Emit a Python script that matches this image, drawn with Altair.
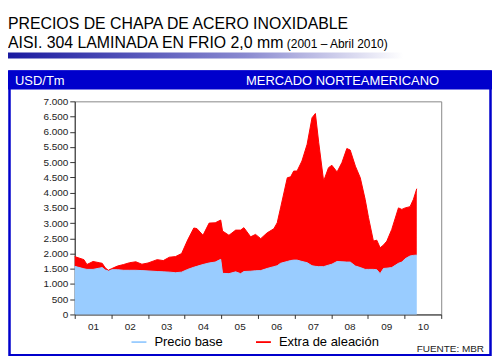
import altair as alt
import pandas as pd

# ---- data ----
# month index counted from January 2001 (0 = Jan 2001)
meses = [0, 3, 4, 6, 8, 9, 10, 11, 12, 14, 16, 18, 20, 22, 24, 27, 29, 31, 33, 35,
         37, 39, 40, 42, 44, 46, 47.8, 48.4, 50.5, 52.7, 54.3, 55.4, 57.6, 59.2, 60.9,
         63, 65.2, 66.3, 67.4, 69.6, 70.7, 71.7, 72.8, 74.4, 76.1, 77.7, 78.8, 79.9,
         81.5, 83.1, 84.2, 85.9, 87.5, 89.1, 90.2, 91.9, 93.5, 95.1, 96.2, 97.8, 98.9,
         100, 101.1, 102.2, 103.8, 106, 107.1, 108.2, 109.8, 110.9, 112]
precio_base = [1580, 1500, 1480, 1480, 1520, 1540, 1460, 1440, 1470, 1470, 1450, 1450,
               1450, 1440, 1430, 1410, 1400, 1390, 1370, 1390, 1480, 1550, 1580, 1640,
               1690, 1720, 1810, 1350, 1340, 1400, 1340, 1410, 1420, 1435, 1440, 1510,
               1570, 1600, 1680, 1740, 1770, 1785, 1785, 1740, 1700, 1600, 1580, 1570,
               1570, 1620, 1650, 1740, 1730, 1720, 1720, 1590, 1540, 1480, 1480, 1480,
               1470, 1340, 1510, 1520, 1540, 1680, 1720, 1830, 1920, 1940, 1950]
extra_aleacion = [320, 300, 160, 260, 180, 140, 70, 10, 30, 120, 190, 250, 280, 210, 260,
                  390, 370, 490, 530, 610, 970, 1290, 1240, 960, 1310, 1290, 1290, 1390,
                  1260, 1370, 1430, 1440, 1130, 1195, 1050, 1170, 1245, 1410, 1820, 2750,
                  2750, 2925, 2925, 3300, 3890, 4860, 5020, 4070, 2810, 3200, 3250, 2940,
                  3260, 3730, 3680, 3280, 2950, 2300, 1700, 930, 970, 850, 770, 890, 1250,
                  1820, 1730, 1670, 1620, 1840, 2180]
series = ["Precio base", "Extra de aleación"]
colores = ["#99CCFF", "#FF0000"]
y_ticks = list(range(0, 7001, 500))
x_ticks = list(range(0, 121, 6))

rows = []
for m, b, e in zip(meses, precio_base, extra_aleacion):
    rows.append({"mes": m, "valor": b, "serie": series[0], "orden": 0})
    rows.append({"mes": m, "valor": e, "serie": series[1], "orden": 1})
df = pd.DataFrame(rows)

# ---- layout (page pixels -> plot coordinates) ----
W, H = 368, 214
PADL, PADT = 67, 93
TOTW, TOTH = 486, 348
PADR = TOTW - PADL - W
PADB = TOTH - PADT - H


def px(v):
    return v - 75


def py(v):
    return v - 101


FONT = "Liberation Sans"

areas = alt.Chart(df).mark_area(
    line={"color": "#000000", "strokeWidth": 1}, interpolate="linear", opacity=1
).encode(
    x=alt.X("mes:Q", scale=alt.Scale(domain=[0, 120], nice=False, zero=False),
            axis=alt.Axis(values=x_ticks, title=None, grid=False,
                          labelExpr="datum.value % 12 === 6 ? (datum.value < 108 ? '0' + ((datum.value - 6) / 12 + 1) : '10') : ''",
                          tickColor={"condition": {"test": "datum.value % 12 === 0", "value": "#333333"},
                                     "value": "transparent"},
                          tickSize=4, labelFontSize=10, labelFont=FONT, labelColor="#222222",
                          labelPadding=3, labelOverlap=False, labelFlush=False,
                          domainColor="#333333")),
    y=alt.Y("valor:Q", stack="zero",
            scale=alt.Scale(domain=[0, 7000], nice=False),
            axis=alt.Axis(values=y_ticks, title=None, grid=False,
                          labelExpr="replace(format(datum.value, ','), ',', '.')",
                          tickSize=5, tickColor="#333333", labelFontSize=10, labelFont=FONT,
                          labelColor="#222222", labelPadding=2, domainColor="#333333")),
    color=alt.Color("serie:N", scale=alt.Scale(domain=series, range=colores),
                    legend=alt.Legend(orient="none", legendX=57, legendY=234,
                                      direction="horizontal", title=None,
                                      symbolType="M-1,-0.12H1V0.12H-1Z", symbolSize=225,
                                      symbolStrokeWidth=0, symbolOpacity=1,
                                      labelFontSize=13, labelFont=FONT,
                                      labelColor="#000000", columnPadding=33, labelOffset=8)),
    order=alt.Order("orden:Q"),
)

one = pd.DataFrame({"k": [0]})

header = alt.Chart(one).mark_rect(color="#0000CC").encode(
    x=alt.value(px(8)), x2=alt.value(px(494)), y=alt.value(py(70)), y2=alt.value(py(89)))
frame = alt.Chart(one).mark_rect(fill=None, stroke="#0000CC", strokeWidth=2.5).encode(
    x=alt.value(px(9.5)), x2=alt.value(px(492.5)), y=alt.value(py(71)), y2=alt.value(py(356)))
grad = alt.Chart(one).mark_rect(
    color=alt.LinearGradient(gradient="linear", x1=0, x2=1, y1=0, y2=0,
                             stops=[alt.GradientStop(offset=0, color="#1A1AA0"),
                                    alt.GradientStop(offset=0.6, color="#8A8AD0"),
                                    alt.GradientStop(offset=1, color="#FFFFFF")])
).encode(x=alt.value(px(8)), x2=alt.value(px(405)), y=alt.value(py(52)), y2=alt.value(py(58)))


def label(txt, x, y, size, color="#000000", align="left"):
    return alt.Chart(pd.DataFrame({"t": [txt]})).mark_text(
        align=align, baseline="alphabetic", fontSize=size, font=FONT, color=color
    ).encode(text="t:N", x=alt.value(px(x)), y=alt.value(py(y)))


texts = [
    label("PRECIOS DE CHAPA DE ACERO INOXIDABLE", 8, 28, 15.9),
    label("AISI. 304 LAMINADA EN FRIO 2,0 mm", 8, 47, 15.9),
    label("(2001 – Abril 2010)", 288, 47, 12),
    label("USD/Tm", 15, 85, 13, "#FFFFFF"),
    label("MERCADO NORTEAMERICANO", 247, 85, 13, "#FFFFFF"),
    label("FUENTE: MBR", 486, 353, 10, "#222222", "right"),
]

chart = alt.layer(header, frame, grad, areas, *texts).properties(
    width=W, height=H,
    autosize=alt.AutoSizeParams(type="none"),
    padding={"left": PADL, "top": PADT, "right": PADR, "bottom": PADB},
    background="#FFFFFF",
).configure_view(stroke="#888888", strokeWidth=1)

chart.save("out.html", embed_options={"renderer": "svg", "actions": False})
